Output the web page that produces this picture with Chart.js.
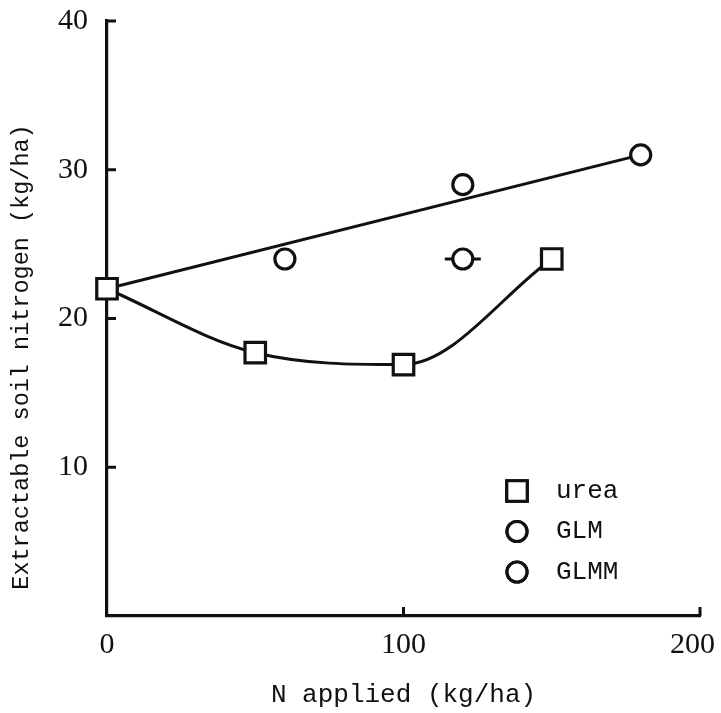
<!DOCTYPE html>
<html>
<head>
<meta charset="utf-8">
<script src="https://cdn.jsdelivr.net/npm/chart.js@4"></script>
<style>
  html, body { margin: 0; padding: 0; background: #fff; }
  #wrap { width: 721px; height: 713px; }
</style>
</head>
<body>
<div id="wrap"><canvas id="nChart" width="721" height="713"></canvas></div>
<script>
// values
const xTicks = [0, 100, 200];
const yTicks = [10, 20, 30, 40];

const ureaX = [0, 50, 100, 150];
const ureaY = [22.0, 17.7, 16.9, 24.0];

const glmX = [60, 120, 180];
const glmY = [24.0, 29.0, 31.0];

const glmmX = [120];
const glmmY = [24.0];

// straight line drawn through the GLM points
const fitX = [0, 180];
const fitY = [22.0, 31.0];

const xTitle = 'N applied (kg/ha)';
const yTitle = 'Extractable soil nitrogen (kg/ha)';

const toPts = (xs, ys) => xs.map((x, i) => ({ x: x, y: ys[i] }));
const ink = '#111';
const monoFont = '"Liberation Mono", "DejaVu Sans Mono", monospace';
const serifFont = '"Liberation Serif", "DejaVu Serif", serif';

// inward tick marks, rotated y title and the in-plot legend
const extras = {
  id: 'extras',
  afterDraw(chart) {
    const ctx = chart.ctx;
    const xs = chart.scales.x, ys = chart.scales.y;
    const area = chart.chartArea;
    ctx.save();
    ctx.strokeStyle = ink;
    ctx.lineWidth = 3;
    yTicks.forEach(v => {
      const py = ys.getPixelForValue(v);
      ctx.beginPath();
      ctx.moveTo(area.left, py);
      ctx.lineTo(area.left + 9, py);
      ctx.stroke();
    });
    xTicks.filter(v => v > 0).forEach(v => {
      const px = xs.getPixelForValue(v);
      ctx.beginPath();
      ctx.moveTo(px, area.bottom);
      ctx.lineTo(px, area.bottom - 9);
      ctx.stroke();
    });

    // y axis title
    ctx.fillStyle = ink;
    ctx.font = '23.5px ' + monoFont;
    ctx.textAlign = 'center';
    ctx.textBaseline = 'middle';
    ctx.save();
    ctx.translate(22, 357);
    ctx.rotate(-Math.PI / 2);
    ctx.fillText(yTitle, 0, 0);
    ctx.restore();

    // legend
    const rows = chart.data.datasets.filter(d => d.inLegend);
    ctx.font = '26px ' + monoFont;
    ctx.textAlign = 'left';
    rows.forEach((d, i) => {
      const y = 491 + i * 40.5;
      Chart.helpers.drawPoint(ctx, {
        pointStyle: d.pointStyle,
        radius: d.pointRadius,
        borderWidth: d.pointBorderWidth,
        rotation: 0
      }, 517, y);
      ctx.fillStyle = '#fff';
      ctx.fill();
      ctx.strokeStyle = ink;
      ctx.lineWidth = d.pointBorderWidth;
      ctx.stroke();
      ctx.fillStyle = ink;
      ctx.fillText(d.label, 556, y);
    });
    ctx.restore();
  }
};

new Chart(document.getElementById('nChart'), {
  type: 'scatter',
  data: {
    datasets: [
      {
        label: 'urea', inLegend: true,
        data: toPts(ureaX, ureaY),
        showLine: true, cubicInterpolationMode: 'monotone',
        borderColor: ink, borderWidth: 3,
        pointStyle: 'rect', pointRadius: 14.5,
        pointBackgroundColor: '#fff', pointBorderColor: ink, pointBorderWidth: 3.2,
        clip: false
      },
      {
        label: 'GLM', inLegend: true,
        data: toPts(glmX, glmY),
        borderColor: ink, borderWidth: 3,
        pointStyle: 'circle', pointRadius: 10,
        pointBackgroundColor: '#fff', pointBorderColor: ink, pointBorderWidth: 3.2,
        clip: false
      },
      {
        label: 'GLMM', inLegend: true,
        data: toPts(glmmX, glmmY),
        borderColor: ink, borderWidth: 3,
        pointStyle: 'circle', pointRadius: 10,
        pointBackgroundColor: '#fff', pointBorderColor: ink, pointBorderWidth: 3.2,
        clip: false
      },
      {
        label: 'GLMM range',
        data: toPts(glmmX, glmmY),
        pointStyle: 'line', pointRadius: 18,
        pointBorderColor: ink, pointBorderWidth: 3,
        clip: false
      },
      {
        label: 'GLM fit',
        data: toPts(fitX, fitY),
        showLine: true, tension: 0,
        borderColor: ink, borderWidth: 3,
        pointRadius: 0,
        clip: false
      }
    ]
  },
  options: {
    responsive: false,
    animation: false,
    events: [],
    layout: { padding: { top: 18, right: 18, left: 0, bottom: 0 } },
    plugins: { legend: { display: false }, tooltip: { enabled: false } },
    scales: {
      x: {
        type: 'linear', min: 0, max: 200,
        afterBuildTicks: s => { s.ticks = xTicks.map(v => ({ value: v })); },
        afterFit: s => { s.height = 97; s.paddingLeft = 0; s.paddingRight = 0; },
        grid: { display: false, drawTicks: false },
        border: { display: true, color: ink, width: 3.2 },
        ticks: {
          color: ink, padding: 11, maxRotation: 0,
          font: { family: serifFont, size: 30 },
          // last label sits a little left of its tick, as in the figure
          callback: v => v === 200 ? '200\u2002' : String(v)
        },
        title: {
          display: true, text: xTitle, color: ink,
          padding: { top: 2, bottom: 2 },
          font: { family: monoFont, size: 26 }
        }
      },
      y: {
        type: 'linear', min: 0, max: 40,
        afterBuildTicks: s => { s.ticks = yTicks.map(v => ({ value: v })); },
        afterFit: s => { s.width = 107; s.paddingTop = 0; s.paddingBottom = 0; },
        grid: { display: false, drawTicks: false },
        border: { display: true, color: ink, width: 3.2 },
        ticks: { color: ink, padding: 19, font: { family: serifFont, size: 30 } }
      }
    }
  },
  plugins: [extras]
});
</script>
</body>
</html>
